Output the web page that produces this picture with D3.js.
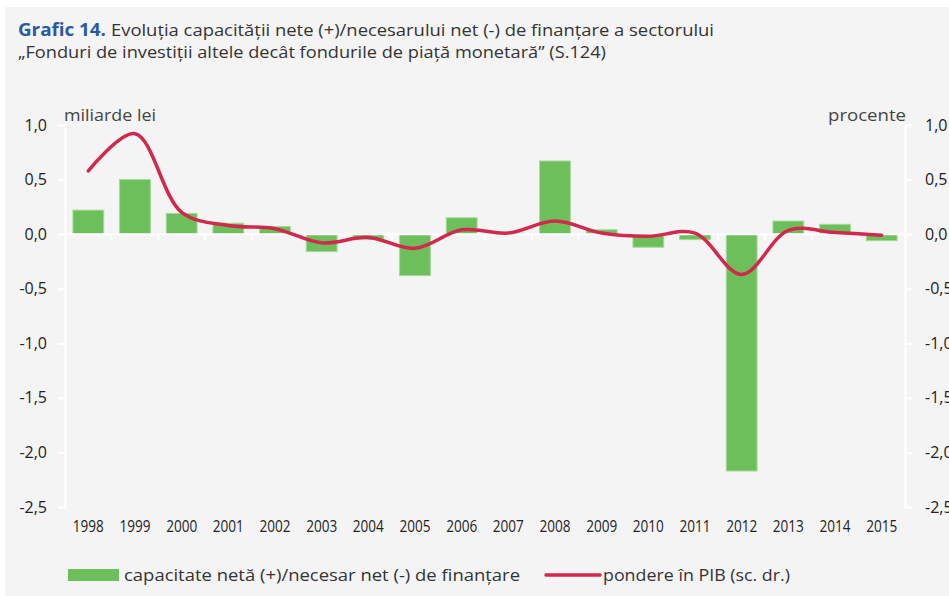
<!DOCTYPE html>
<html lang="ro">
<head>
  <meta charset="utf-8">
  <title>Grafic 14</title>
  <script src="https://cdn.jsdelivr.net/npm/d3@7"></script>
  <style>
    body { margin: 0; background: #fff; }
    text { font-family: "Open Sans", sans-serif; }
  </style>
</head>
<body>
  <script>
  // date
  var years = ["1998","1999","2000","2001","2002","2003","2004","2005","2006",
               "2007","2008","2009","2010","2011","2012","2013","2014","2015"];
  // capacitate neta (+)/necesar net (-), miliarde lei
  var netLending = [0.22, 0.50, 0.19, 0.10, 0.07, -0.16, -0.05, -0.38, 0.15,
                    0.01, 0.67, 0.04, -0.12, -0.05, -2.17, 0.12, 0.09, -0.06];
  // pondere in PIB, procente (sc. dr.)
  var shareGdp = [0.58, 0.92, 0.20, 0.08, 0.05, -0.08, -0.03, -0.13, 0.04,
                  0.01, 0.12, 0.01, -0.02, 0.01, -0.37, 0.035, 0.015, -0.01];
  var yTicks = [1.0, 0.5, 0.0, -0.5, -1.0, -1.5, -2.0, -2.5];

  var W = 949, H = 596;
  var plotL = 65, plotR = 905, plotT = 125, plotB = 507;

  var svg = d3.select("body").append("svg")
    .attr("width", W).attr("height", H);

  svg.append("rect")
    .attr("x", 5).attr("y", 7)
    .attr("width", W - 5).attr("height", H - 7)
    .attr("fill", "#f4f4f4");

  // titlu
  svg.append("text").attr("x", 18).attr("y", 36)
    .attr("font-size", 17).attr("font-weight", "bold").attr("fill", "#2a5aa6")
    .attr("textLength", 88).attr("lengthAdjust", "spacingAndGlyphs")
    .text("Grafic 14.");
  svg.append("text").attr("x", 111).attr("y", 36)
    .attr("font-size", 17).attr("fill", "#333")
    .attr("textLength", 603).attr("lengthAdjust", "spacingAndGlyphs")
    .text("Evoluția capacității nete (+)/necesarului net (-) de finanțare a sectorului");
  svg.append("text").attr("x", 18).attr("y", 58)
    .attr("font-size", 17).attr("fill", "#333")
    .attr("textLength", 588).attr("lengthAdjust", "spacingAndGlyphs")
    .text("„Fonduri de investiții altele decât fondurile de piață monetară” (S.124)");

  var x = d3.scaleBand().domain(years).range([plotL, plotR]).paddingInner(0.34).paddingOuter(0.17);
  var yL = d3.scaleLinear().domain([-2.5, 1.0]).range([plotB, plotT]);
  var yR = d3.scaleLinear().domain([-2.5, 1.0]).range([plotB, plotT]);
  var step = x.step();

  // bare
  svg.append("g").selectAll("rect")
    .data(netLending)
    .enter().append("rect")
    .attr("x", (d, i) => x(years[i]))
    .attr("width", x.bandwidth())
    .attr("y", d => yL(Math.max(0, d)))
    .attr("height", d => Math.abs(yL(d) - yL(0)))
    .attr("fill", "#6dbf5b")
    .attr("stroke", "#a5d99a")
    .attr("stroke-width", 1);

  // virgula zecimala si cratima simpla pentru minus
  var fmt = d => d.toFixed(1).replace(".", ",");

  // axa stanga
  var axL = svg.append("g").attr("transform", `translate(${plotL},0)`)
    .call(d3.axisLeft(yL).tickValues(yTicks).tickSize(7).tickPadding(11).tickFormat(fmt));
  axL.select(".domain").attr("stroke", "#fff").attr("stroke-width", 2);
  axL.selectAll(".tick line").attr("stroke", "#fff").attr("stroke-width", 2);
  axL.selectAll(".tick text").attr("font-size", 16).attr("fill", "#222")
    .attr("font-family", "Open Sans, sans-serif");

  // axa dreapta
  var axR = svg.append("g").attr("transform", `translate(${plotR},0)`)
    .call(d3.axisRight(yR).tickValues(yTicks).tickSize(7).tickPadding(13).tickFormat(fmt));
  axR.select(".domain").attr("stroke", "#fff").attr("stroke-width", 2);
  axR.selectAll(".tick line").attr("stroke", "#fff").attr("stroke-width", 2);
  axR.selectAll(".tick text").attr("font-size", 16).attr("fill", "#222")
    .attr("font-family", "Open Sans, sans-serif");

  // linia de zero si marcajele categoriilor
  svg.append("line")
    .attr("x1", plotL).attr("x2", plotR + 7)
    .attr("y1", yL(0)).attr("y2", yL(0))
    .attr("stroke", "#fff").attr("stroke-width", 2);
  svg.append("g").selectAll("line")
    .data(years.slice(1))
    .enter().append("line")
    .attr("x1", d => x(d) - step * x.paddingInner() / 2)
    .attr("x2", d => x(d) - step * x.paddingInner() / 2)
    .attr("y1", yL(0)).attr("y2", yL(0) + 6)
    .attr("stroke", "#fff").attr("stroke-width", 2);

  // etichete ani
  svg.append("g").selectAll("text")
    .data(years)
    .enter().append("text")
    .attr("x", d => x(d) + x.bandwidth() / 2 - 15.5)
    .attr("y", 532)
    .attr("font-size", 16).attr("fill", "#222")
    .attr("textLength", 31).attr("lengthAdjust", "spacingAndGlyphs")
    .text(d => d);

  // linia pondere in PIB
  var line = d3.line()
    .x((d, i) => x(years[i]) + x.bandwidth() / 2)
    .y(d => yR(d))
    .curve(d3.curveCatmullRom.alpha(0.5));
  svg.append("path")
    .datum(shareGdp)
    .attr("d", line)
    .attr("fill", "none")
    .attr("stroke", "#d2284e")
    .attr("stroke-width", 3.5)
    .attr("stroke-linecap", "round");

  // titluri axe
  svg.append("text").attr("x", 64).attr("y", 121)
    .attr("font-size", 17).attr("fill", "#444")
    .attr("textLength", 92).attr("lengthAdjust", "spacingAndGlyphs")
    .text("miliarde lei");
  svg.append("text").attr("x", 828).attr("y", 121)
    .attr("font-size", 17).attr("fill", "#444")
    .attr("textLength", 78).attr("lengthAdjust", "spacingAndGlyphs")
    .text("procente");

  // legenda
  svg.append("rect").attr("x", 68).attr("y", 569).attr("width", 51).attr("height", 12)
    .attr("fill", "#6dbf5b");
  svg.append("text").attr("x", 124).attr("y", 581)
    .attr("font-size", 17).attr("fill", "#333")
    .attr("textLength", 396).attr("lengthAdjust", "spacingAndGlyphs")
    .text("capacitate netă (+)/necesar net (-) de finanțare");
  svg.append("line").attr("x1", 546).attr("x2", 600).attr("y1", 575).attr("y2", 575)
    .attr("stroke", "#d2284e").attr("stroke-width", 3.5).attr("stroke-linecap", "round");
  svg.append("text").attr("x", 603).attr("y", 581)
    .attr("font-size", 17).attr("fill", "#333")
    .attr("textLength", 187).attr("lengthAdjust", "spacingAndGlyphs")
    .text("pondere în PIB (sc. dr.)");
  </script>
</body>
</html>
